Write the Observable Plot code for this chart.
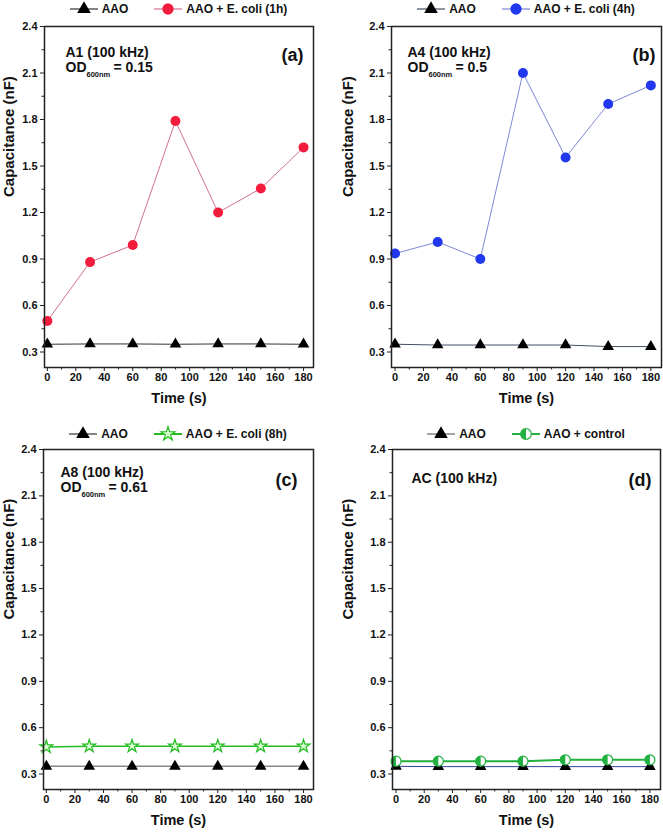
<!DOCTYPE html>
<html>
<head>
<meta charset="utf-8">
<script src="https://cdn.jsdelivr.net/npm/d3@7"></script>
<script src="https://cdn.jsdelivr.net/npm/@observablehq/plot@0.6"></script>
<style>
  html, body { margin: 0; padding: 0; background: #fff; }
  body { width: 663px; height: 832px; overflow: hidden; font-family: "Liberation Sans", Arial, sans-serif; }
  #grid { position: relative; width: 663px; height: 832px; }
  .panel { position: absolute; }
  .legend { display: flex; justify-content: center; align-items: center; gap: 26px; font-weight: bold; font-size: 12px; color: #111; }
  .legend .item { display: flex; align-items: center; gap: 4px; white-space: nowrap; }
  svg { overflow: visible; }
</style>
</head>
<body>
<div id="grid"></div>
<script>
// ---- data ----
const time = [0, 30, 60, 90, 120, 150, 180];
const aaoA = [0.35, 0.352, 0.352, 0.35, 0.352, 0.352, 0.35];
const ecoli1h = [0.50, 0.88, 0.99, 1.79, 1.20, 1.355, 1.62];
const aaoB = [0.35, 0.345, 0.345, 0.345, 0.345, 0.335, 0.335];
const ecoli4h = [0.935, 1.01, 0.90, 2.10, 1.555, 1.90, 2.02];
const aaoC = [0.35, 0.35, 0.35, 0.35, 0.35, 0.35, 0.35];
const ecoli8h = [0.475, 0.48, 0.48, 0.48, 0.48, 0.48, 0.48];
const aaoD = [0.35, 0.348, 0.348, 0.348, 0.348, 0.348, 0.348];
const control = [0.383, 0.383, 0.383, 0.383, 0.392, 0.392, 0.392];

const yTicks = [0.3, 0.6, 0.9, 1.2, 1.5, 1.8, 2.1, 2.4];
const yMinor = [0.45, 0.75, 1.05, 1.35, 1.65, 1.95, 2.25];
const xTicks = [0, 20, 40, 60, 80, 100, 120, 140, 160, 180];
const xMinor = [10, 30, 50, 70, 90, 110, 130, 150, 170];

const halfCircle = {
  draw(context, size) {
    const r = Math.sqrt(size / Math.PI);
    context.moveTo(0, -r);
    context.arc(0, 0, r, -Math.PI / 2, Math.PI / 2, true);
    context.closePath();
  }
};

const FONT = "Liberation Sans, Arial, sans-serif";

function rows(values) { return time.map((t, i) => ({t, v: values[i]})); }

function legendSwatch(kind, stroke, fill) {
  const ns = "http://www.w3.org/2000/svg";
  const s = document.createElementNS(ns, "svg");
  s.setAttribute("width", 28); s.setAttribute("height", 14);
  const ln = document.createElementNS(ns, "line");
  ln.setAttribute("x1", 0); ln.setAttribute("x2", 28); ln.setAttribute("y1", 7); ln.setAttribute("y2", 7);
  ln.setAttribute("stroke", stroke); ln.setAttribute("stroke-width", kind === "star" || kind === "half" ? 2 : 1.2);
  s.appendChild(ln);
  const p = document.createElementNS(ns, "path");
  let sym;
  if (kind === "tri") sym = d3.symbol(d3.symbolTriangle, 80);
  else if (kind === "circle") sym = d3.symbol(d3.symbolCircle, 100);
  else if (kind === "star") sym = d3.symbol(d3.symbolStar, 60);
  else sym = d3.symbol(d3.symbolCircle, 90);
  p.setAttribute("d", sym());
  p.setAttribute("transform", "translate(14,7)");
  if (kind === "tri") { p.setAttribute("fill", "#000"); }
  else if (kind === "circle") { p.setAttribute("fill", fill); }
  else if (kind === "star") { p.setAttribute("fill", "#d8ffd0"); p.setAttribute("stroke", stroke); p.setAttribute("stroke-width", 1.2); }
  else { p.setAttribute("fill", "#fff"); p.setAttribute("stroke", stroke); p.setAttribute("stroke-width", 1.2); }
  s.appendChild(p);
  if (kind === "half") {
    const h = document.createElementNS(ns, "path");
    h.setAttribute("d", d3.symbol(halfCircle, 90)());
    h.setAttribute("transform", "translate(14,7)");
    h.setAttribute("fill", stroke);
    s.appendChild(h);
  }
  return s;
}

function panel(cfg) {
  const div = document.createElement("div");
  div.className = "panel";
  div.style.left = cfg.left + "px";
  div.style.top = cfg.top + "px";
  div.style.width = cfg.width + "px";

  const leg = document.createElement("div");
  leg.className = "legend";
  leg.style.height = cfg.legendH + "px";
  leg.style.paddingTop = cfg.legendPad + "px";
  leg.style.boxSizing = "border-box";
  leg.style.marginLeft = cfg.ml + "px";
  leg.style.width = (cfg.width - cfg.ml - cfg.mr) + "px";
  for (const it of cfg.legend) {
    const d = document.createElement("div");
    d.className = "item";
    d.appendChild(legendSwatch(it.kind, it.stroke, it.fill));
    const sp = document.createElement("span");
    sp.textContent = it.label;
    d.appendChild(sp);
    leg.appendChild(d);
  }
  div.appendChild(leg);

  const aaoData = rows(cfg.aao);
  const serData = rows(cfg.series);
  const marks = [
    Plot.axisY({ticks: yMinor, tickSize: 2.5, tickFormat: () => "", label: null, stroke: "#222"}),
    Plot.axisX({ticks: xMinor, tickSize: 2.5, tickFormat: () => "", label: null, stroke: "#222"}),
    Plot.axisY({ticks: yTicks, tickSize: 4, tickPadding: 3, tickFormat: d3.format(".1f"), label: null, stroke: "#222", fontSize: 11, fontWeight: "bold"}),
    Plot.axisX({ticks: xTicks, tickSize: 4, tickPadding: 2, tickFormat: d => String(d), label: null, stroke: "#222", fontSize: 11, fontWeight: "bold"}),
    Plot.lineY(aaoData, {x: "t", y: "v", stroke: cfg.aaoLine, strokeWidth: cfg.aaoWidth}),
    Plot.lineY(serData, {x: "t", y: "v", stroke: cfg.serLine, strokeWidth: cfg.serWidth}),
    Plot.dot(aaoData, {x: "t", y: "v", symbol: "triangle", r: 4.3, fill: "#000"}),
  ];
  if (cfg.kind === "circle") {
    marks.push(Plot.dot(serData, {x: "t", y: "v", r: 5, fill: cfg.serFill}));
  } else if (cfg.kind === "star") {
    marks.push(Plot.dot(serData, {x: "t", y: "v", symbol: "star", r: 4, fill: "#d8ffd0", stroke: cfg.serLine, strokeWidth: 1.2}));
  } else {
    marks.push(Plot.dot(serData, {x: "t", y: "v", r: 5, fill: "#fff", stroke: cfg.serLine, strokeWidth: 1.2}));
    marks.push(Plot.dot(serData, {x: "t", y: "v", r: 5, symbol: halfCircle, fill: cfg.serLine}));
  }
  marks.push(
    Plot.frame({stroke: "#222", strokeWidth: 1.5}),
    Plot.text(["Capacitance (nF)"], {frameAnchor: "left", rotate: -90, dx: cfg.ylabDx, fontSize: 15, fontWeight: "bold", fill: "#111"}),
    Plot.text(["Time (s)"], {frameAnchor: "bottom", dy: 35, fontSize: 14.5, fontWeight: "bold", fill: "#111"}),
    Plot.text([cfg.tag], {frameAnchor: "top-left", textAnchor: "start", dx: cfg.tagDx, dy: cfg.tagDy, fontSize: 14, fontWeight: "bold", fill: "#111"}),
    Plot.text([cfg.letter], {frameAnchor: "top-right", textAnchor: "end", dx: cfg.letDx, dy: cfg.letDy, fontSize: 18, fontWeight: "bold", fill: "#111"})
  );
  if (cfg.od) {
    marks.push(
      Plot.text(["OD"], {frameAnchor: "top-left", textAnchor: "start", dx: cfg.tagDx, dy: cfg.tagDy + 15, fontSize: 14, fontWeight: "bold", fill: "#111"}),
      Plot.text(["600nm"], {frameAnchor: "top-left", textAnchor: "start", dx: cfg.tagDx + 21, dy: cfg.tagDy + 24, fontSize: 7.5, fontWeight: "bold", fill: "#111"}),
      Plot.text(["= " + cfg.od], {frameAnchor: "top-left", textAnchor: "start", dx: cfg.tagDx + 48, dy: cfg.tagDy + 15, fontSize: 14, fontWeight: "bold", fill: "#111"})
    );
  }

  const chart = Plot.plot({
    width: cfg.width,
    height: cfg.mt + cfg.innerH + cfg.mb,
    marginTop: cfg.mt, marginBottom: cfg.mb, marginLeft: cfg.ml, marginRight: cfg.mr,
    x: {domain: cfg.xDomain},
    y: {domain: [0.2, 2.4]},
    style: {fontFamily: FONT, fontSize: "11px", color: "#111", background: "transparent"},
    marks
  });
  div.appendChild(chart);
  document.getElementById("grid").appendChild(div);
}

panel({
  left: 0, top: 0, width: 331, ml: 44, mr: 18, mt: 8, mb: 43, innerH: 341, legendH: 18, legendPad: 0,
  xDomain: [-2, 187], aao: aaoA, series: ecoli1h, kind: "circle",
  aaoLine: "#333", aaoWidth: 1, serLine: "#d27090", serWidth: 1, serFill: "#f21c3c",
  ylabDx: -35, tag: "A1 (100 kHz)", od: "0.15", tagDx: 21, tagDy: 21, letter: "(a)", letDx: -10, letDy: 22,
  legend: [{kind: "tri", stroke: "#333", label: "AAO"}, {kind: "circle", stroke: "#d27090", fill: "#f21c3c", label: "AAO + E. coli (1h)"}]
});
panel({
  left: 331, top: 0, width: 332, ml: 60, mr: 2, mt: 8, mb: 43, innerH: 341, legendH: 18, legendPad: 0,
  xDomain: [-2.5, 187.5], aao: aaoB, series: ecoli4h, kind: "circle",
  aaoLine: "#445066", aaoWidth: 1, serLine: "#7c88d8", serWidth: 1, serFill: "#2238ee",
  ylabDx: -43, tag: "A4 (100 kHz)", od: "0.5", tagDx: 16, tagDy: 21, letter: "(b)", letDx: -6, letDy: 22,
  legend: [{kind: "tri", stroke: "#445066", label: "AAO"}, {kind: "circle", stroke: "#7c88d8", fill: "#2238ee", label: "AAO + E. coli (4h)"}]
});
panel({
  left: 0, top: 410, width: 331, ml: 43, mr: 18, mt: 8, mb: 43, innerH: 340, legendH: 31, legendPad: 17,
  xDomain: [-2, 187], aao: aaoC, series: ecoli8h, kind: "star",
  aaoLine: "#888", aaoWidth: 1.5, serLine: "#22bb22", serWidth: 1.6,
  ylabDx: -34, tag: "A8 (100 kHz)", od: "0.61", tagDx: 17, tagDy: 18, letter: "(c)", letDx: -16, letDy: 24,
  legend: [{kind: "tri", stroke: "#333", label: "AAO"}, {kind: "star", stroke: "#22bb22", label: "AAO + E. coli (8h)"}]
});
panel({
  left: 331, top: 410, width: 332, ml: 61, mr: 3, mt: 8, mb: 43, innerH: 340, legendH: 31, legendPad: 17,
  xDomain: [-2.5, 187.5], aao: aaoD, series: control, kind: "half",
  aaoLine: "#34409a", aaoWidth: 1, serLine: "#22b040", serWidth: 2,
  ylabDx: -44, tag: "AC (100 kHz)", od: null, tagDx: 19, tagDy: 24, letter: "(d)", letDx: -9, letDy: 24,
  legend: [{kind: "tri", stroke: "#666", label: "AAO"}, {kind: "half", stroke: "#22b040", label: "AAO + control"}]
});
</script>
</body>
</html>
